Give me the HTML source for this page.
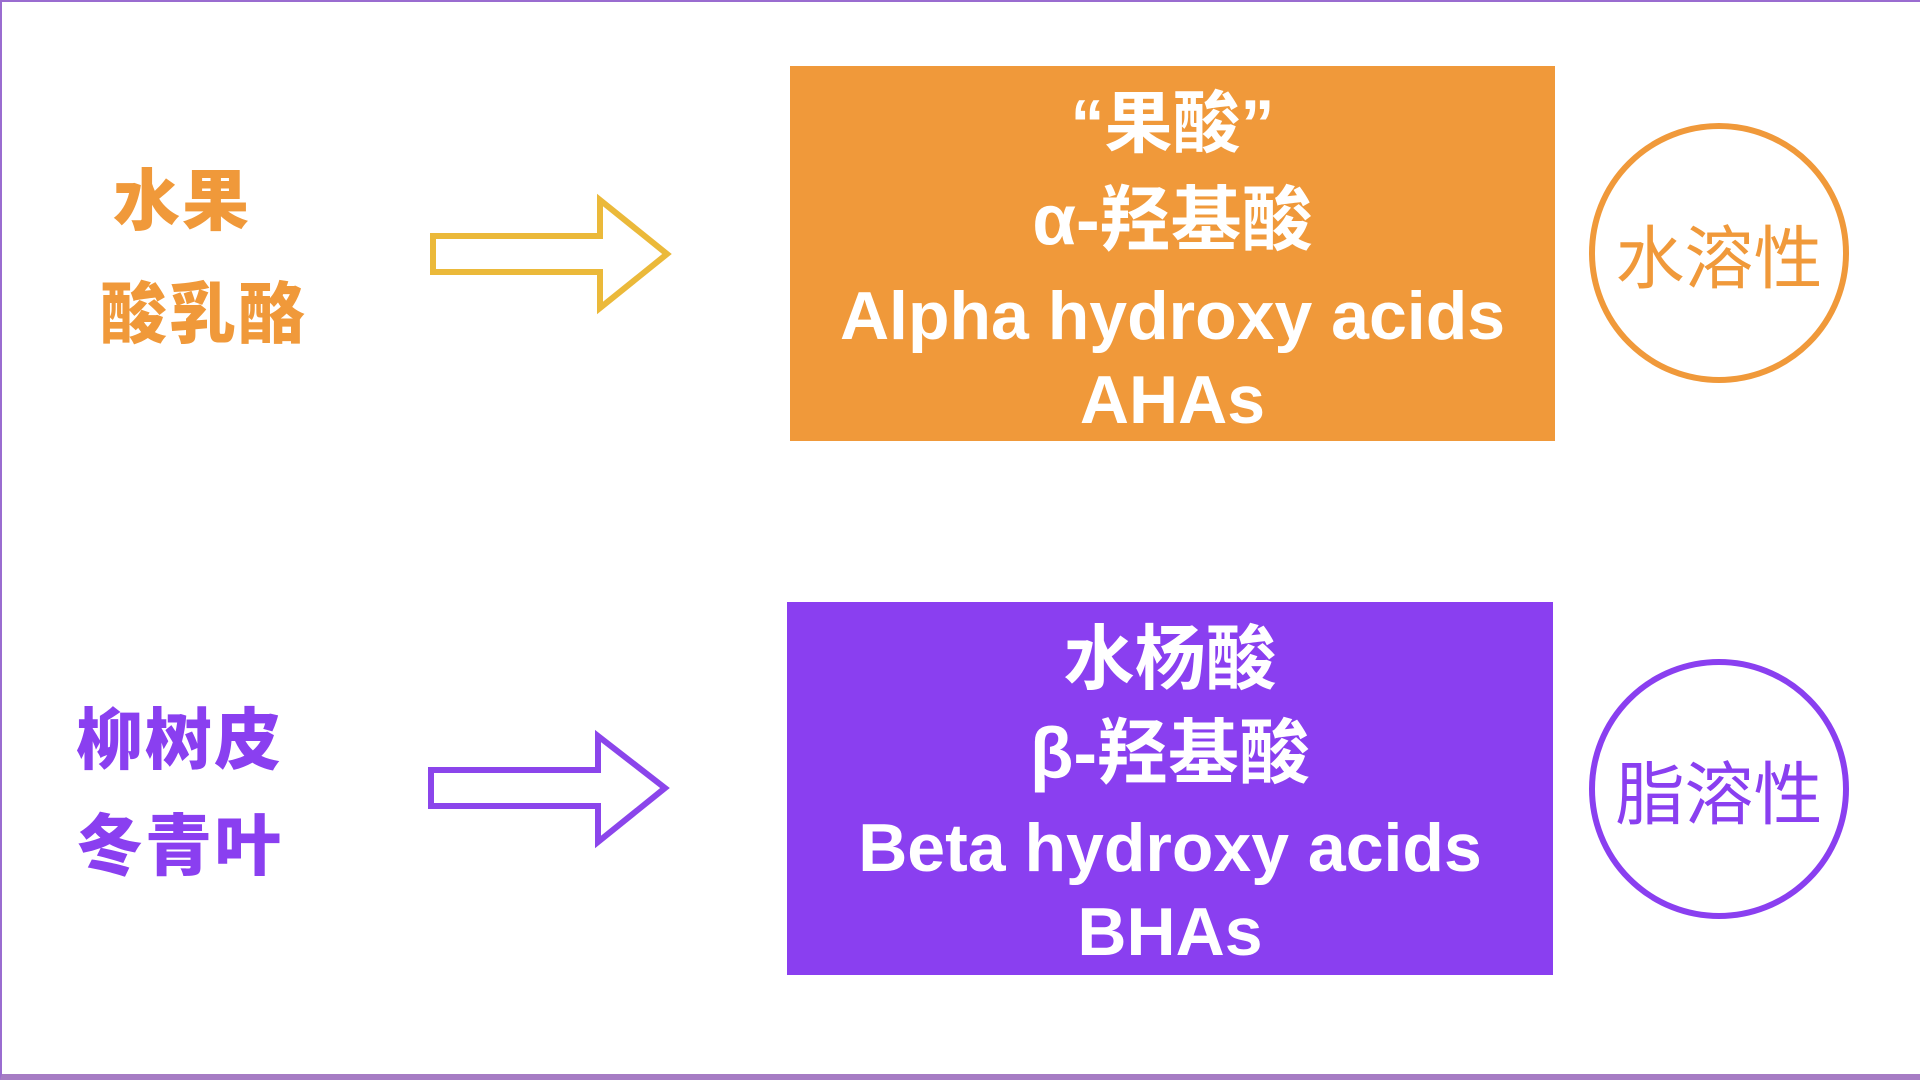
<!DOCTYPE html>
<html><head><meta charset="utf-8"><style>
html,body{margin:0;padding:0}
body{width:1920px;height:1080px;position:relative;background:#fff;overflow:hidden;font-family:"Liberation Sans","Noto Sans CJK SC",sans-serif}
.frame{position:absolute;left:0;top:0;width:1920px;height:1080px;box-sizing:border-box;border-left:2px solid #9a6cd0;border-top:2px solid #9a6cd0;border-bottom:6px solid #a67cc4}
.box{position:absolute;color:#fff;font-weight:bold;text-align:center}
.t{position:absolute;left:0;width:100%;line-height:1;transform:translateY(-50%)}
.lbl{position:absolute;font-family:"Noto Sans CJK SC",sans-serif;font-weight:900;font-size:67px;line-height:1;transform:translateY(-50%);letter-spacing:2px}
.circ{position:absolute;width:260px;height:260px;border-radius:50%;box-sizing:border-box;border:6px solid}
.ct{position:absolute;left:0;width:100%;text-align:center;top:50%;transform:translateY(-50%);font-size:69px;line-height:1;font-family:"Noto Sans CJK SC",sans-serif}
</style></head><body>
<div class="frame"></div>

<div class="lbl" style="left:113px;top:196px;color:#f0993a">水果</div>
<div class="lbl" style="left:100px;top:309px;color:#f0993a">酸乳酪</div>
<div class="lbl" style="left:76px;top:735px;color:#8a3ff0">柳树皮</div>
<div class="lbl" style="left:76px;top:841px;color:#8a3ff0">冬青叶</div>

<svg width="1920" height="1080" style="position:absolute;left:0;top:0">
<polygon points="433,236 600,236 600,200 667,254 600,308 600,272 433,272" fill="none" stroke="#ebb93a" stroke-width="6"/>
<polygon points="431,770 598,770 598,736 665,788 598,842 598,806 431,806" fill="none" stroke="#8b45eb" stroke-width="6"/>
</svg>

<div class="box" style="left:790px;top:66px;width:765px;height:375px;background:#f0993a">
<div class="t" style="top:58px;font-size:68px">“果酸”</div>
<div class="t" style="top:155px;font-size:71px">α-羟基酸</div>
<div class="t" style="top:250px;font-size:68px">Alpha hydroxy acids</div>
<div class="t" style="top:334px;font-size:68px">AHAs</div>
</div>

<div class="box" style="left:787px;top:602px;width:766px;height:373px;background:#8a3ff0">
<div class="t" style="top:58px;font-size:71px">水杨酸</div>
<div class="t" style="top:152px;font-size:71px">β-羟基酸</div>
<div class="t" style="top:246px;font-size:68px">Beta hydroxy acids</div>
<div class="t" style="top:330px;font-size:68px">BHAs</div>
</div>

<div class="circ" style="left:1589px;top:123px;border-color:#f0993a"><div class="ct" style="color:#f0993a">水溶性</div></div>
<div class="circ" style="left:1589px;top:659px;border-color:#8a3ff0"><div class="ct" style="color:#8a3ff0">脂溶性</div></div>
</body></html>
